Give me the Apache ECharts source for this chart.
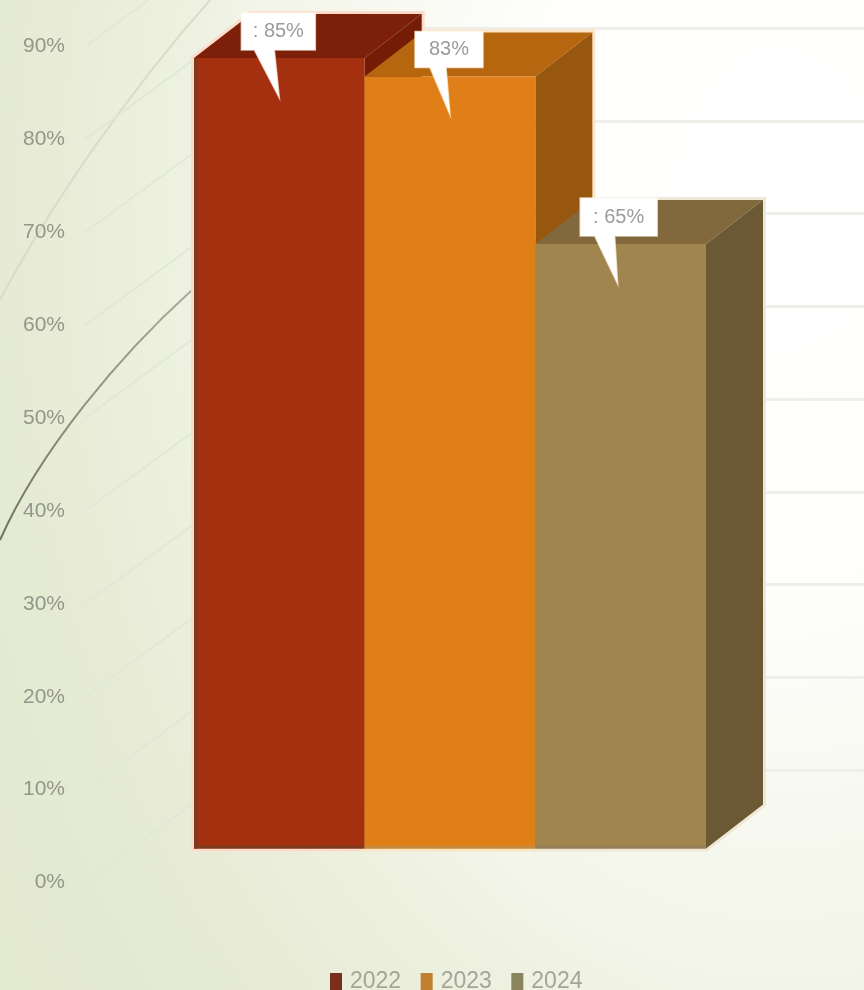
<!DOCTYPE html>
<html><head><meta charset="utf-8">
<style>html,body{margin:0;padding:0;overflow:hidden;height:100%;background:#f0f3e4}
#b{width:864px;height:990px;background:radial-gradient(760px 1100px at 780px 200px,#ffffff 0%,#fefefc 35%,#f2f5e8 70%,#ebefdc 85%,#e5ead3 105%,#e3e9cf 125%)}
#c{width:864px;height:990px;filter:blur(0.7px)}</style>
<script src="https://cdn.jsdelivr.net/npm/echarts@6/dist/echarts.min.js"></script>
</head><body><div id="b"><div id="c"></div></div>
<script>
const years = ['2022', '2023', '2024'];
const values = [85, 83, 65];
const calloutTexts = [': 85%', '83%', ': 65%'];
const axisTicks = [0, 10, 20, 30, 40, 50, 60, 70, 80, 90];

const frontColors = ['#a5300f', '#e07f17', '#a0854f'];
const topColors = ['#7c2009', '#b5660f', '#82693d'];
const sideColors = ['#741c06', '#98570e', '#6b5835'];
const edgeColors = ['#7d3a1e', '#c68a3c', '#96805a'];
const legendColors = ['#7a2f1a', '#c08030', '#8a845c'];
const haloColors = ['#fddccb', '#fde6c6', '#efe8d6'];

const DX = 57, DY = -44;          // depth of a bar
const WALL_DX = 153, WALL_DY = -112; // depth of the side wall

function renderBar(i) {
  return function (params, api) {
    const top = api.coord([i, values[i]]);
    const base = api.coord([i, 0]);
    const w = api.size([1, 0])[0];
    const l = top[0] - w / 2, r = top[0] + w / 2;
    const t = top[1], b = base[1];
    const kids = [
      { type: 'polygon', shape: { points: [[l, t], [l + DX, t + DY], [r + DX, t + DY], [r, t]] }, style: { fill: topColors[i] } },
      { type: 'polygon', shape: { points: [[r, t], [r + DX, t + DY], [r + DX, b + DY], [r, b]] }, style: { fill: sideColors[i] } },
      { type: 'rect', shape: { x: l, y: t, width: w, height: b - t }, style: { fill: frontColors[i] } },
      { type: 'rect', shape: { x: l, y: b - 3, width: w, height: 3 }, style: { fill: edgeColors[i] } }
    ];
    if (i === 0) kids.push({ type: 'rect', shape: { x: l, y: t, width: 4, height: b - t }, style: { fill: edgeColors[i] } });
    return { type: 'group', children: kids };
  };
}
function renderHalo(params, api) {
  const i = api.value(0);
  const top = api.coord([i, api.value(1)]);
  const base = api.coord([i, 0]);
  const w = api.size([1, 0])[0];
  const l = top[0] - w / 2, r = top[0] + w / 2;
  return { type: 'polygon', shape: { points: [
    [l, base[1]], [l, top[1]], [l + DX, top[1] + DY], [r + DX, top[1] + DY], [r + DX, base[1] + DY], [r, base[1]]
  ] }, style: { fill: 'none', stroke: haloColors[i], lineWidth: 6, lineJoin: 'miter' } };
}
function renderCallout(params, api) {
  const i = api.value(0);
  const p = api.coord([i, api.value(1)]);
  const w = i === 1 ? 68 : 74 + (i === 2 ? 3 : 0);
  const cx = p[0] + (i === 2 ? -2 : -1);
  const y0 = p[1] - (i === 2 ? 46 : 45), y1 = p[1] - (i === 1 ? 9 : 8);
  const bx0 = cx - (i === 1 ? 19 : 24), bx1 = cx - (i === 1 ? 3 : 4);
  const tipX = p[0] + (i === 2 ? -3 : 0), tipY = p[1] + (i === 1 ? 38 : 40);
  return { type: 'group', children: [
    { type: 'polygon', shape: { points: [
      [cx - w / 2, y0], [cx + w / 2, y0], [cx + w / 2, y1], [bx1, y1], [tipX, tipY], [bx0, y1], [cx - w / 2, y1]
    ] }, style: { fill: '#ffffff', stroke: 'rgba(255,250,240,0.7)', lineWidth: 1.5 } },
    { type: 'text', style: { text: calloutTexts[i], x: cx, y: (y0 + y1) / 2, align: 'center', verticalAlign: 'middle',
      fill: '#9b9b9b', font: '20px "Liberation Sans", Arial, sans-serif' } }
  ] };
}
function renderWall(params, api) {
  const p = api.coord([0, api.value(0)]);
  return { type: 'line', shape: { x1: p[0], y1: p[1], x2: p[0] + WALL_DX, y2: p[1] + WALL_DY },
    style: { stroke: '#e2e8d6', lineWidth: 2 } };
}

const hiddenX = g => ({ type: 'value', gridIndex: g, min: 0, max: 1, show: false });

const chart = echarts.init(document.getElementById('c'), null, { renderer: 'canvas' });
chart.setOption({
  animation: false,
  backgroundColor: 'transparent',
  graphic: [
    { type: 'bezierCurve', z: -1, shape: { x1: 0, y1: 540, cpx1: 40, cpy1: 450, cpx2: 120, cpy2: 355, x2: 192, y2: 290 },
      style: { fill: 'none', lineWidth: 2, stroke: { type: 'linear', x: 0, y: 1, x2: 1, y2: 0, colorStops: [
        { offset: 0, color: '#6d7160' }, { offset: 0.5, color: '#8e9280' }, { offset: 1, color: '#a9ad9a' }] } } },
    { type: 'bezierCurve', z: -1, shape: { x1: 0, y1: 300, cpx1: 50, cpy1: 205, cpx2: 130, cpy2: 90, x2: 210, y2: 0 },
      style: { fill: 'none', lineWidth: 2, stroke: '#d8dcc8' } }
  ],
  legend: {
    left: 325, top: 965, itemWidth: 12, itemHeight: 17, itemGap: 19.5, icon: 'rect',
    selectedMode: false,
    textStyle: { color: '#a3a597', fontSize: 23, fontFamily: '"Liberation Sans", Arial, sans-serif', padding: [0, 0, 0, 3] },
    data: years.map((y, i) => ({ name: y, itemStyle: { color: legendColors[i] } }))
  },
  grid: [
    { left: 194, width: 512, top: 11.5, height: 837 },   // plane of the bars
    { left: 238, width: 640, top: 28, height: 742 },     // back wall
    { left: 85, width: 10, top: 46.5, height: 836 }      // front of the side wall
  ],
  xAxis: [
    { type: 'category', gridIndex: 0, data: years, show: false },
    hiddenX(1), hiddenX(2)
  ],
  yAxis: [
    { type: 'value', gridIndex: 0, min: 0, max: 90, interval: 10, show: false },
    { type: 'value', gridIndex: 1, min: 0, max: 80, interval: 10, axisLabel: { show: false }, axisLine: { show: false }, axisTick: { show: false },
      splitLine: { show: true, lineStyle: { color: '#eeefe9', width: 3 } } },
    { type: 'value', gridIndex: 2, min: 0, max: 90, interval: 10, axisLine: { show: false }, axisTick: { show: false }, splitLine: { show: false },
      axisLabel: { show: true, margin: 20, color: '#93968a', fontSize: 21, fontFamily: '"Liberation Sans", Arial, sans-serif', formatter: '{value}%' } }
  ],
  series: [
    { type: 'custom', xAxisIndex: 2, yAxisIndex: 2, clip: false, z: 1, silent: true, renderItem: renderWall, data: axisTicks.map(t => [t]), encode: { y: 0 } },
    { type: 'custom', xAxisIndex: 0, yAxisIndex: 0, clip: false, z: 2, silent: true, renderItem: renderHalo, data: values.map((v, i) => [i, v]), encode: { x: 0, y: 1 } },
    ...years.map((y, i) => ({ type: 'custom', name: y, xAxisIndex: 0, yAxisIndex: 0, clip: false, z: 3 + i * 0.1,
      itemStyle: { color: legendColors[i] }, renderItem: renderBar(i), data: [[i, values[i]]], encode: { x: 0, y: 1 } })),
    { type: 'custom', xAxisIndex: 0, yAxisIndex: 0, clip: false, z: 5, silent: true, renderItem: renderCallout, data: values.map((v, i) => [i, v]), encode: { x: 0, y: 1 } }
  ]
});
</script></body></html>
